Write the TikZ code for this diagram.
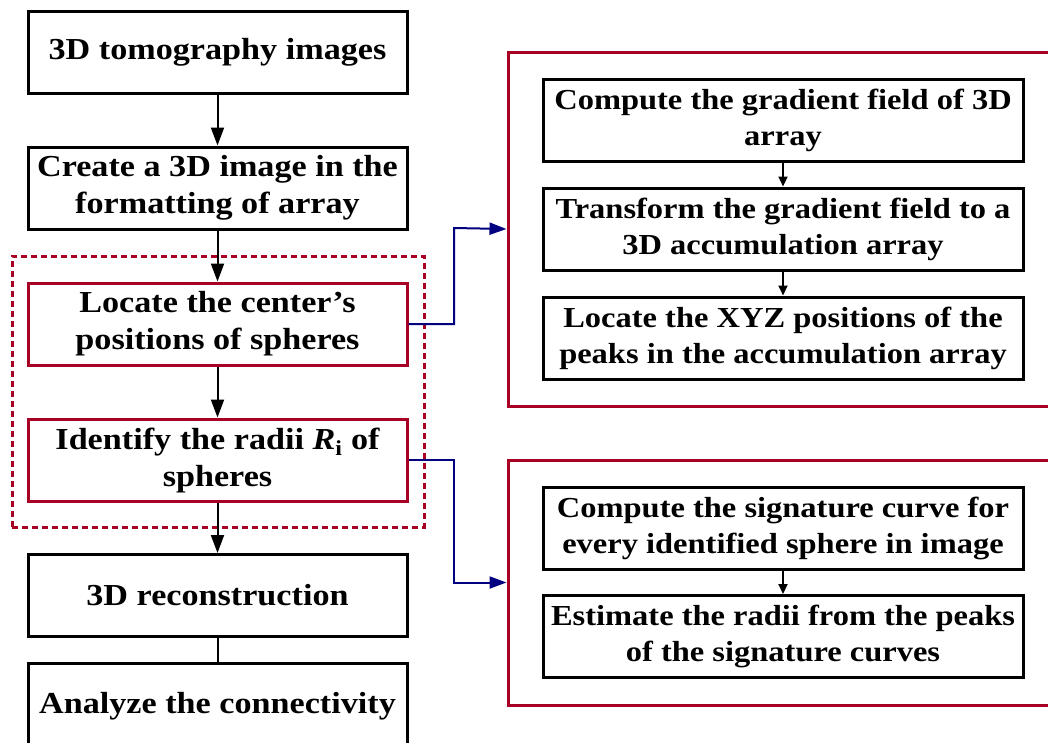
\documentclass[tikz,border=0pt]{standalone}
\usepackage{fontspec}
\setmainfont{Liberation Serif}[FakeStretch=1.12]
\usetikzlibrary{arrows.meta}
\definecolor{dred}{RGB}{168,0,36}
\definecolor{navyb}{RGB}{0,0,128}
\begin{document}
\begin{tikzpicture}[x=1pt,y=-1pt,
  box/.style={draw=black, line width=3pt, minimum width=379pt, minimum height=82pt,
    align=center, inner sep=0pt, font=\fontsize{30.5}{37}\selectfont\bfseries},
  redbox/.style={box, draw=dred},
  rbox/.style={box, minimum width=480pt, font=\fontsize{29}{36}\selectfont\bfseries},
  outer/.style={draw=dred, line width=3pt, minimum width=552pt, inner sep=0pt},
  bigarrow/.style={line width=2pt, -{Triangle[length=18pt,width=13pt]}},
  smallarrow/.style={line width=2pt, -{Triangle[length=10pt,width=9pt]}},
  bluearrow/.style={draw=navyb, line width=2pt, -{Triangle[length=17pt,width=12pt]}}
]
\useasboundingbox (0,0) rectangle (1048,742);
\fill[white] (0,0) rectangle (1048,742);

% left column
\node[box] (b1) at (217.5,52.5) {3D tomography images};
\node[box] (b2) at (217.5,188) {Create a 3D image in the\\formatting of array};
\node[draw=dred, line width=3pt, dash pattern=on 6pt off 4pt, minimum width=412pt, minimum height=271pt, inner sep=0pt] (dash) at (218,391.5) {};
\node[redbox] (b3) at (217.5,324) {Locate the center’s\\positions of spheres};
\node[redbox] (b4) at (217.5,460) {Identify the radii \textit{R}\textsubscript{i} of\\spheres};
\node[box] (b5) at (217.5,595.5) {3D reconstruction};
\node[box, minimum height=86pt] (b6) at (217.5,706) {Analyze the connectivity};

\draw[bigarrow] (b1.south) -- (b2.north);
\draw[bigarrow] (b2.south) -- (b3.north);
\draw[bigarrow] (b3.south) -- (b4.north);
\draw[bigarrow] (b4.south) -- (b5.north);
\draw[line width=2pt] (b5.south) -- (b6.north);

% right groups
\node[outer, minimum height=354pt] (o1) at (784,229) {};
\node[outer, minimum height=245pt] (o2) at (784,582.5) {};

\node[rbox] (r1) at (783,120.5) {Compute the gradient field of 3D\\array};
\node[rbox] (r2) at (783,229) {Transform the gradient field to a\\3D accumulation array};
\node[rbox] (r3) at (783,338) {Locate the XYZ positions of the\\peaks in the accumulation array};
\node[rbox] (r4) at (783,528) {Compute the signature curve for\\every identified sphere in image};
\node[rbox] (r5) at (783,636.5) {Estimate the radii from the peaks\\of the signature curves};

\draw[smallarrow] (r1.south) -- (r2.north);
\draw[smallarrow] (r2.south) -- (r3.north);
\draw[smallarrow] (r4.south) -- (r5.north);

\coordinate (k1) at (454,324);
\coordinate (k2) at (454,228);
\coordinate (k3) at (454,460);
\coordinate (k4) at (454,582.5);
\draw[bluearrow] (b3.east) -- (k1) -- (k2) -- (o1.west);
\draw[bluearrow] (b4.east) -- (k3) -- (k4) -- (o2.west);
\end{tikzpicture}
\end{document}
